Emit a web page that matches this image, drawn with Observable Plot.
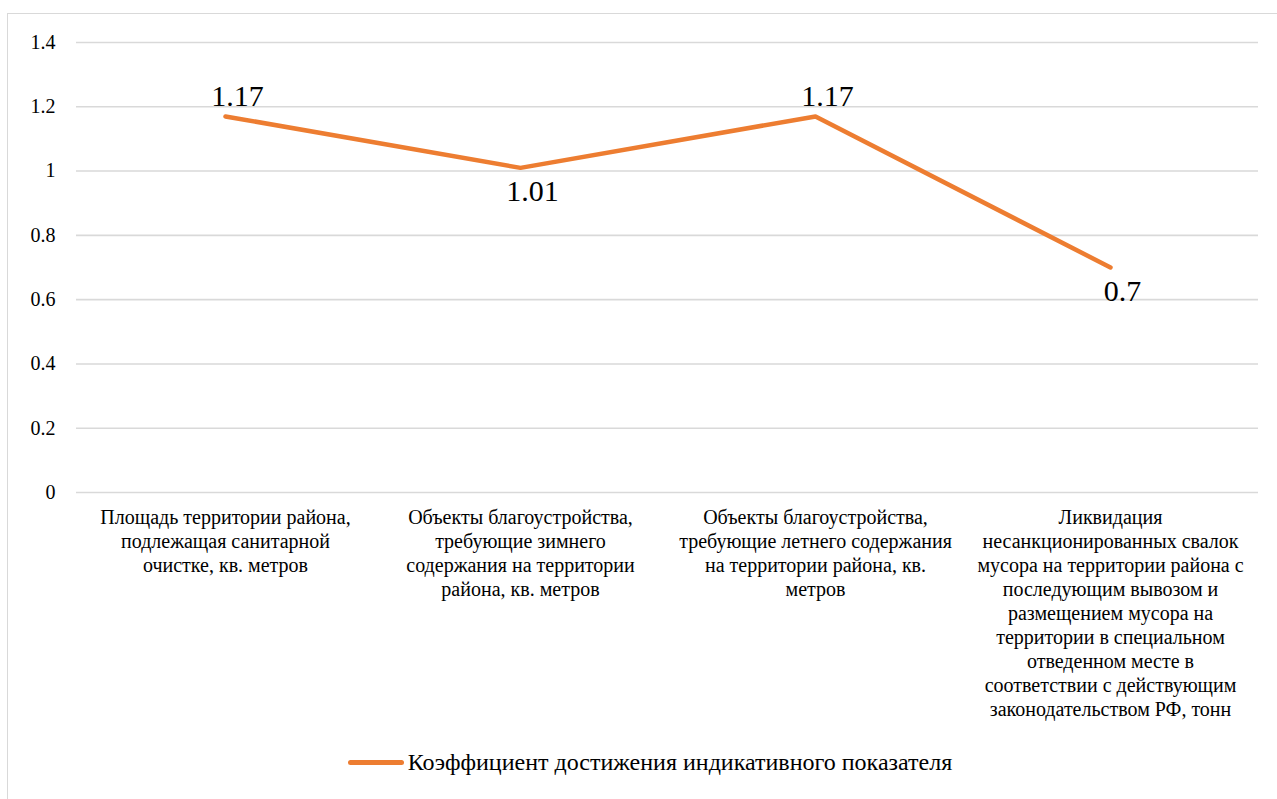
<!DOCTYPE html>
<html>
<head>
<meta charset="utf-8">
<script src="https://cdn.jsdelivr.net/npm/d3@7"></script>
<script src="https://cdn.jsdelivr.net/npm/@observablehq/plot@0.6"></script>
<style>
  html, body { margin: 0; padding: 0; background: #fff; overflow: hidden; }
  body { width: 1277px; height: 799px; position: relative; font-family: "Liberation Serif", "Tinos", "DejaVu Serif", "Noto Serif", serif; }
  #frame { position: absolute; left: 7px; top: 13px; width: 1300px; height: 820px; border: 1.5px solid #d9d9d9; box-sizing: border-box; }
  #chart { position: absolute; left: 0; top: 0; }
  #legend { position: absolute; left: 0; width: 1300px; top: 749px; display: flex; justify-content: center; align-items: center; }
  #legend .sw { width: 56px; height: 4.5px; background: #ED7D31; border-radius: 3px; margin-right: 4px; }
  #legend .tx { font-size: 24px; color: #000; }
  svg, svg text { font-family: "Liberation Serif", "Tinos", "DejaVu Serif", "Noto Serif", serif !important; }
</style>
</head>
<body>
<div id="frame"></div>
<div id="chart"></div>
<div id="legend"><div class="sw"></div><div class="tx" id="legendText"></div></div>
<script>
const categories = ["A", "B", "C", "D"];
const values = [1.17, 1.01, 1.17, 0.7];
const seriesName = "Коэффициент достижения индикативного показателя";
const categoryLabels = [
  "Площадь территории района,\nподлежащая санитарной\nочистке, кв. метров",
  "Объекты благоустройства,\nтребующие зимнего\nсодержания на территории\nрайона, кв. метров",
  "Объекты благоустройства,\nтребующие летнего содержания\nна территории района, кв.\nметров",
  "Ликвидация\nнесанкционированных свалок\nмусора на территории района с\nпоследующим вывозом и\nразмещением мусора на\nтерритории в специальном\nотведенном месте в\nсоответствии с действующим\nзаконодательством РФ, тонн"
];
const yTicks = [0, 0.2, 0.4, 0.6, 0.8, 1, 1.2, 1.4];

const data = categories.map((c, i) => ({cat: c, value: values[i], label: categoryLabels[i], i}));
const above = data.filter(d => d.i === 0 || d.i === 2);
const below = data.filter(d => d.i === 1 || d.i === 3);

const chart = Plot.plot({
  width: 1277,
  height: 740,
  marginLeft: 76,
  marginRight: 19,
  marginTop: 42,
  marginBottom: 248,
  style: {color: "#000", background: "transparent"},
  x: {type: "point", domain: categories, padding: 0.5},
  y: {domain: [0, 1.4]},
  marks: [
    Plot.gridY(yTicks, {stroke: "#d9d9d9", strokeOpacity: 1, strokeWidth: 1.6}),
    Plot.axisY(yTicks, {tickSize: 0, tickPadding: 21, fontSize: 20, tickFormat: d => String(+d.toFixed(1)), label: null, fill: "#000"}),
    Plot.axisX({tickSize: 0, tickPadding: 14, fontSize: 20, lineHeight: 1.2, lineAnchor: "top", tickFormat: (d) => categoryLabels[categories.indexOf(d)], label: null, fill: "#000"}),
    Plot.line(data, {x: "cat", y: "value", stroke: "#ED7D31", strokeWidth: 4.5, strokeLinecap: "round", strokeLinejoin: "round"}),
    Plot.text(above, {x: "cat", y: "value", text: d => String(d.value), dy: -20, dx: 12, fontSize: 30, fill: "#000", lineAnchor: "middle"}),
    Plot.text(below, {x: "cat", y: "value", text: d => String(d.value), dy: 24, dx: 12, fontSize: 30, fill: "#000", lineAnchor: "middle"})
  ]
});
document.getElementById("chart").appendChild(chart);
document.getElementById("legendText").textContent = seriesName;
</script>
</body>
</html>
